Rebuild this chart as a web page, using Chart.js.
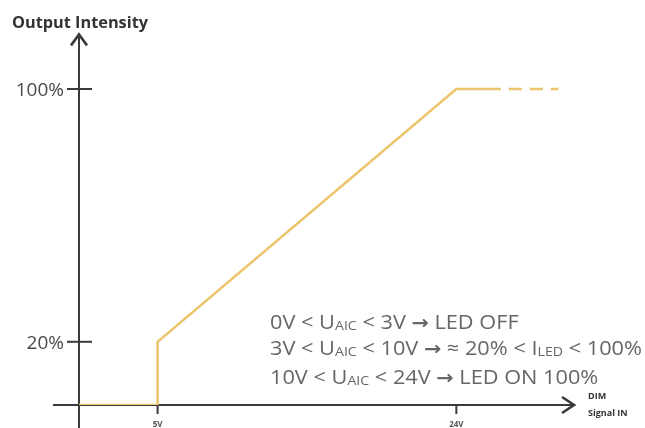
<!DOCTYPE html>
<html>
<head>
<meta charset="utf-8">
<script src="https://cdn.jsdelivr.net/npm/chart.js@4/dist/chart.umd.min.js"></script>
<style>
html,body{margin:0;padding:0;background:#fff;}
#wrap{width:645px;height:428px;position:relative;}
</style>
</head>
<body>
<div id="wrap"><canvas id="c" width="645" height="428"></canvas></div>
<script>
// ---- data ----
const solidX = [0, 5, 5, 24, 26];
const solidY = [0, 0, 20, 100, 100];
const dashX = [26, 30.5];
const dashY = [100, 100];
const xTickValues = [5, 24];
const xTickLabels = ['5V', '24V'];
const yTickValues = [20, 100];
const yTickLabels = ['20%', '100%'];
const titleText = 'Output Intensity';
const xAxisTitle = ['DIM', 'Signal IN'];
const noteLines = [
  [['0V < U',''],['AIC','sub'],[' < 3V ',''],['→','arrow'],[' LED OFF','']],
  [['3V < U',''],['AIC','sub'],[' < 10V ',''],['→','arrow'],[' ≈ 20% < I',''],['LED','sub'],[' < 100%','']],
  [['10V < U',''],['AIC','sub'],[' < 24V ',''],['→','arrow'],[' LED ON 100%','']]
];
const axisRangeX = [-1.65, 31.55];
const axisRangeY = [-7.5, 117.6];

const LINE_COLOR = '#EBC46B';
const AXIS_COLOR = '#3a3a3a';
const FONT = '"Open Sans", sans-serif';

const pts = (xs, ys) => xs.map((x, i) => ({x, y: ys[i]}));

function segFont(kind) {
  if (kind === 'sub') return '13px ' + FONT;
  if (kind === 'arrow') return 'bold 19px "DejaVu Sans", sans-serif';
  return '20px ' + FONT;
}

const decor = {
  id: 'decor',
  beforeDatasetsDraw(chart) {
    const {ctx, scales: {x, y}} = chart;
    const x0 = x.getPixelForValue(0), y0 = y.getPixelForValue(0);
    ctx.save();
    ctx.strokeStyle = AXIS_COLOR;
    ctx.lineWidth = 2;
    ctx.lineCap = 'butt';
    const xl = x.getPixelForValue(axisRangeX[0]), xr = x.getPixelForValue(axisRangeX[1]);
    ctx.beginPath(); ctx.moveTo(xl, y0); ctx.lineTo(xr, y0); ctx.stroke();
    const yb = y.getPixelForValue(axisRangeY[0]), yt = y.getPixelForValue(axisRangeY[1]);
    ctx.beginPath(); ctx.moveTo(x0, yb); ctx.lineTo(x0, yt); ctx.stroke();
    ctx.lineWidth = 2.6;
    ctx.lineJoin = 'miter';
    ctx.beginPath(); ctx.moveTo(x0 - 8, yt + 12); ctx.lineTo(x0, yt + 1); ctx.lineTo(x0 + 8, yt + 12); ctx.stroke();
    ctx.beginPath(); ctx.moveTo(xr - 13, y0 - 8); ctx.lineTo(xr - 1, y0); ctx.lineTo(xr - 13, y0 + 8); ctx.stroke();
    ctx.lineWidth = 2;
    yTickValues.forEach(v => {
      const py = y.getPixelForValue(v);
      ctx.beginPath(); ctx.moveTo(x0 - 12, py); ctx.lineTo(x0 + 13, py); ctx.stroke();
    });
    xTickValues.forEach(v => {
      const px = x.getPixelForValue(v);
      ctx.beginPath(); ctx.moveTo(px, y0); ctx.lineTo(px, y0 + 9); ctx.stroke();
    });
    ctx.restore();
  },
  afterDraw(chart) {
    const {ctx, scales: {x, y}} = chart;
    const x0 = x.getPixelForValue(0), y0 = y.getPixelForValue(0);
    ctx.save();
    ctx.textBaseline = 'alphabetic';
    // y tick labels
    ctx.fillStyle = '#4a4a4a';
    ctx.font = '19px ' + FONT;
    ctx.textAlign = 'right';
    yTickValues.forEach((v, i) => {
      ctx.fillText(yTickLabels[i], x0 - 15, y.getPixelForValue(v) + 7);
    });
    // x tick labels
    ctx.fillStyle = '#555';
    ctx.font = 'bold 8px ' + FONT;
    ctx.textAlign = 'center';
    xTickValues.forEach((v, i) => {
      ctx.fillText(xTickLabels[i], x.getPixelForValue(v), y0 + 22);
    });
    // title (condensed to reference width)
    ctx.textAlign = 'left';
    ctx.fillStyle = '#333';
    ctx.font = 'bold 16px ' + FONT;
    let w = ctx.measureText(titleText).width;
    ctx.save();
    ctx.translate(12, 28);
    ctx.scale(136 / w, 1);
    ctx.fillText(titleText, 0, 0);
    ctx.restore();
    // x axis title
    ctx.fillStyle = '#333';
    ctx.font = 'bold 9px ' + FONT;
    ctx.fillText(xAxisTitle[0], 588, 399);
    ctx.fillText(xAxisTitle[1], 588, 416);
    // notes
    ctx.fillStyle = '#666';
    const baseX = 270;
    const baselines = [329, 355, 384];
    let w2 = 0;
    noteLines[1].forEach(([t, k]) => { ctx.font = segFont(k); w2 += ctx.measureText(t).width; });
    const sx = 372 / w2;
    noteLines.forEach((segs, i) => {
      ctx.save();
      ctx.translate(baseX, baselines[i]);
      ctx.scale(sx, 1);
      let cx = 0;
      segs.forEach(([t, kind]) => {
        ctx.font = segFont(kind);
        ctx.fillText(t, cx, kind === 'sub' ? 1 : 0);
        cx += ctx.measureText(t).width;
      });
      ctx.restore();
    });
    ctx.restore();
  }
};

new Chart(document.getElementById('c'), {
  type: 'line',
  data: {
    datasets: [
      {data: pts(solidX, solidY), borderColor: LINE_COLOR, borderWidth: 2.5, pointRadius: 0, fill: false, tension: 0},
      {data: pts(dashX, dashY), borderColor: LINE_COLOR, borderWidth: 2.5, pointRadius: 0, fill: false, tension: 0, borderDash: [13, 8]}
    ]
  },
  options: {
    responsive: false,
    animation: false,
    events: [],
    layout: {padding: {top: 10, right: 0, left: 79, bottom: 23}},
    plugins: {legend: {display: false}, tooltip: {enabled: false}},
    elements: {line: {borderCapStyle: 'butt', borderJoinStyle: 'miter'}},
    scales: {
      x: {type: 'linear', min: 0, max: 36, display: false},
      y: {type: 'linear', min: 0, max: 125, display: false}
    }
  },
  plugins: [decor]
});
</script>
</body>
</html>
